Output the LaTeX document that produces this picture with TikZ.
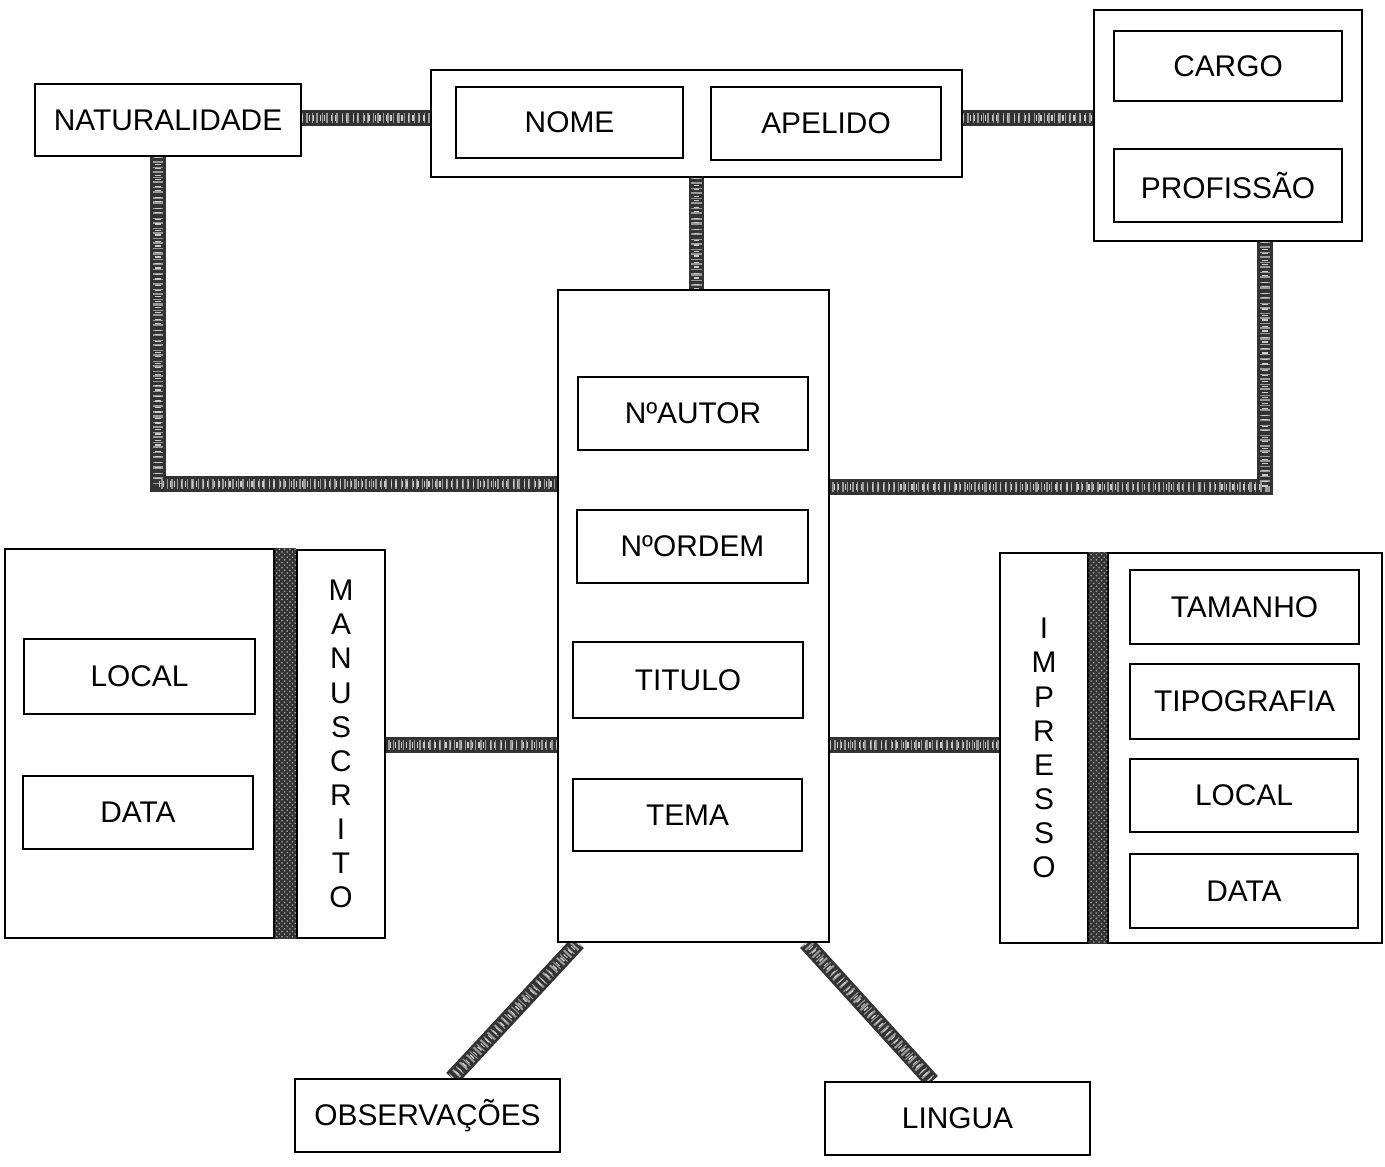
\documentclass[tikz,border=0pt]{standalone}
\usepackage{fontspec}
\setmainfont{Liberation Sans}
\usetikzlibrary{patterns,backgrounds}
\tikzset{
  box/.style={draw,line width=.8pt,fill=white,inner sep=0pt,font=\fontsize{17}{20}\selectfont},
  keybox/.style={box,line width=1.4pt},
  vlabel/.style={box,align=center,font=\fontsize{17}{19.4}\selectfont},
  link/.style={line width=9pt,draw=black!80,
    postaction={draw,line width=6pt,black!40,dash pattern=on .6pt off 1.7pt on 1.2pt off 2.3pt},
    postaction={draw,line width=3pt,black!20,dash pattern=on .8pt off 3.1pt on .5pt off 1.9pt}},
  bar/.style={fill=black!80,postaction={pattern=crosshatch dots,pattern color=black!35}}
}
\begin{document}
\begin{tikzpicture}[x=0.02cm,y=-0.02cm]
\useasboundingbox(0,0)rectangle(1385,1166);
%author name
\node[box,minimum width=5.32cm,minimum height=1.44cm](nat)at(168,120){NATURALIDADE};
\node[box,minimum width=10.62cm,minimum height=2.14cm](nomebox)at(696.5,123.5){};
\node[box,minimum width=4.54cm,minimum height=1.42cm](nome)at(569.5,122.5){NOME};
\node[box,minimum width=4.6cm,minimum height=1.46cm](apelido)at(826,123.5){APELIDO};
\node[box,minimum width=5.36cm,minimum height=4.62cm](cargobox)at(1228,125.5){};
\node[box,minimum width=4.56cm,minimum height=1.4cm](cargo)at(1228,66){CARGO};
\node[box,minimum width=4.56cm,minimum height=1.46cm](prof)at(1228,185.5){PROFISSÃO};
%work
\node[box,minimum width=5.42cm,minimum height=13.04cm](obra)at(693.5,616){};
\node[keybox,minimum width=4.6cm,minimum height=1.46cm](autor)at(693,413.5){NºAUTOR};
\node[keybox,minimum width=4.62cm,minimum height=1.46cm](ordem)at(692.5,546.5){NºORDEM};
\node[box,minimum width=4.6cm,minimum height=1.52cm](titulo)at(688,680){TITULO};
\node[box,minimum width=4.58cm,minimum height=1.44cm](tema)at(687.5,815){TEMA};
%manuscript
\node[box,minimum width=5.38cm,minimum height=7.78cm](manbox)at(139.5,743.5){};
\node[box,minimum width=4.62cm,minimum height=1.5cm](mlocal)at(139.5,676.5){LOCAL};
\node[box,minimum width=4.6cm,minimum height=1.46cm](mdata)at(138,812.5){DATA};
\node[vlabel,minimum width=1.76cm,minimum height=7.76cm](manlabel)at(341,744)
  {M\\A\\N\\U\\S\\C\\R\\I\\T\\O};
%printed
\node[vlabel,minimum width=1.76cm,minimum height=7.8cm](implabel)at(1044,748)
  {I\\M\\P\\R\\E\\S\\S\\O};
\node[box,minimum width=5.48cm,minimum height=7.8cm](impbox)at(1245,748){};
\node[box,minimum width=4.58cm,minimum height=1.48cm](tamanho)at(1244.5,607){TAMANHO};
\node[box,minimum width=4.58cm,minimum height=1.5cm](tipo)at(1244.5,701.5){TIPOGRAFIA};
\node[box,minimum width=4.56cm,minimum height=1.46cm](ilocal)at(1244,795.5){LOCAL};
\node[box,minimum width=4.56cm,minimum height=1.48cm](idata)at(1244,891){DATA};
%bottom
\node[box,minimum width=5.3cm,minimum height=1.46cm](obs)at(427.5,1115.5){OBSERVAÇÕES};
\node[box,minimum width=5.3cm,minimum height=1.46cm](lingua)at(957.5,1118.5){LINGUA};
%links
\begin{scope}[on background layer]
\draw[link](nat.east|-0,118)--(nomebox.west|-0,118);
\draw[link](nomebox.east|-0,118)--(cargobox.west|-0,118);
\draw[link](nomebox.south)--(obra.north-|nomebox.south);
\draw[link](nat.south-|158,0)|-(obra.west|-0,484);
\draw[link](cargobox.south-|1265,0)|-(obra.east|-0,487);
\draw[link](obra.west|-0,745)--(manlabel.east|-0,745);
\draw[link](obra.east|-0,745)--(implabel.west|-0,745);
\draw[link](obra.south-|578,0)--(obs.north-|452,0);
\draw[link](obra.south-|806,0)--(lingua.north-|932,0);
\end{scope}
\path[bar](manbox.north east)rectangle(manlabel.south west);
\path[bar](implabel.north east)rectangle(impbox.south west);
\end{tikzpicture}
\end{document}
